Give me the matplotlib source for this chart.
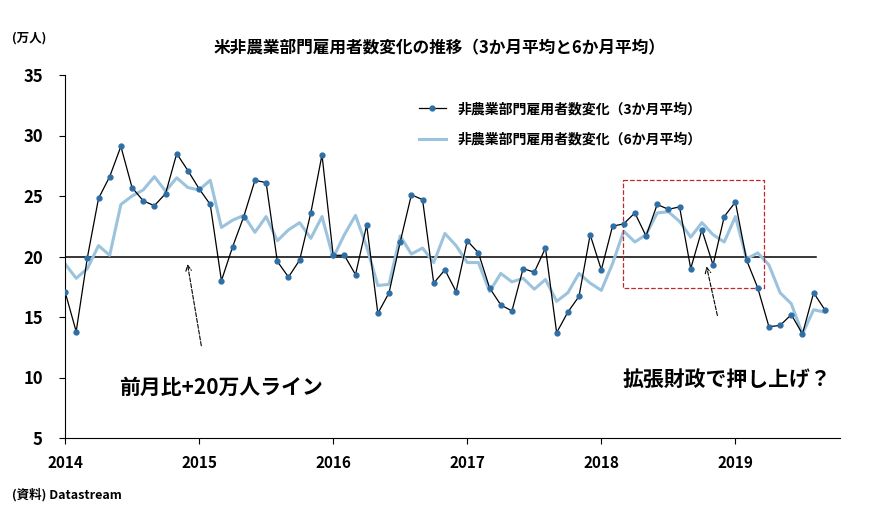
import matplotlib
matplotlib.use("Agg")
import matplotlib.pyplot as plt
import numpy as np

plt.rcParams['font.family'] = ['Noto Sans CJK JP', 'DejaVu Sans']

m3 = [17.1, 13.8, 19.9, 24.8, 26.6, 29.1, 25.7, 24.6, 24.2, 25.2, 28.5, 27.1,
      25.6, 24.3, 18.0, 20.8, 23.3, 26.3, 26.1, 19.6, 18.3, 19.7, 23.6, 28.4,
      20.1, 20.1, 18.5, 22.6, 15.3, 17.0, 21.2, 25.1, 24.7, 17.8, 18.9, 17.1,
      21.3, 20.3, 17.4, 16.0, 15.5, 19.0, 18.7, 20.7, 13.7, 15.4, 16.7, 21.8,
      18.9, 22.5, 22.7, 23.6, 21.7, 24.3, 23.9, 24.1, 19.0, 22.2, 19.3, 23.3,
      24.5, 19.7, 17.4, 14.2, 14.3, 15.2, 13.6, 17.0, 15.6]
m6 = [19.4, 18.2, 19.0, 20.9, 20.1, 24.3, 25.0, 25.5, 26.6, 25.4, 26.5, 25.7,
      25.5, 26.3, 22.4, 23.0, 23.4, 22.0, 23.3, 21.3, 22.2, 22.8, 21.5, 23.3,
      19.9, 21.8, 23.4, 20.8, 17.6, 17.7, 21.7, 20.2, 20.7, 19.5, 21.9, 20.9,
      19.5, 19.5, 17.1, 18.6, 17.9, 18.2, 17.3, 18.1, 16.3, 17.0, 18.6, 17.8,
      17.2, 19.4, 22.1, 21.2, 21.8, 23.6, 23.7, 22.9, 21.6, 22.8, 21.8, 21.2,
      23.3, 19.8, 20.3, 19.3, 17.0, 16.1, 13.6, 15.6, 15.4]
years = [2014, 2015, 2016, 2017, 2018, 2019]
x = 2014 + np.arange(len(m3)) / 12.0

fig = plt.figure(figsize=(8.85, 5.24), dpi=100)
ax = fig.add_axes([65/885, 1-438/524, (840-65)/885, (438-75)/524])
ax.plot(x, m6, color='#9cc3dd', lw=2.2, label='非農業部門雇用者数変化（6か月平均）', zorder=2)
ax.plot(x, m3, color='black', lw=0.9, marker='o', ms=3.5, mfc='#2e6fa8', mec='#2e6fa8',
        label='非農業部門雇用者数変化（3か月平均）', zorder=3)
ax.plot([2014, 2019.6], [20, 20], color='black', lw=1.1, zorder=1)
ax.plot([2018.16, 2019.21, 2019.21, 2018.16, 2018.16], [26.3, 26.3, 17.4, 17.4, 26.3],
        color='#c0282d', lw=0.9, ls='--')
ax.annotate('', xy=(2014.91, 19.6), xytext=(2015.02, 12.4),
            arrowprops=dict(arrowstyle='->', ls='--', color='black', lw=0.8))
ax.annotate('', xy=(2018.78, 19.4), xytext=(2018.87, 14.9),
            arrowprops=dict(arrowstyle='->', ls='--', color='black', lw=0.8))
ax.text(2014.4, 9.2, '前月比+20万人ライン', fontsize=15, fontweight='bold', va='center')
ax.text(2018.16, 9.8, '拡張財政で押し上げ？', fontsize=15, fontweight='bold', va='center')

ax.set_xlim(2014, 2019.78)
ax.set_ylim(5, 35)
ax.set_xticks(years)
ax.set_xticklabels([str(y) for y in years], fontsize=11, fontweight='bold')
ax.set_yticks(range(5, 36, 5))
ax.set_yticklabels([str(v) for v in range(5, 36, 5)], fontsize=12, fontweight='bold')
ax.tick_params(axis='y', direction='out', length=4, pad=12)
ax.tick_params(axis='x', direction='out', length=4, pad=8)
for s in ['top', 'right']:
    ax.spines[s].set_visible(False)

h, l = ax.get_legend_handles_labels()
ax.legend([h[1], h[0]], [l[1], l[0]], loc='upper left', bbox_to_anchor=(0.44, 0.96),
          frameon=False, prop={'size': 10, 'weight': 'bold'}, labelspacing=1.2)

fig.text(440/885, 1-48/524, '米非農業部門雇用者数変化の推移（3か月平均と6か月平均）',
         ha='center', va='center', fontsize=12, fontweight='bold')
fig.text(12/885, 1-38/524, '(万人)', fontsize=9, fontweight='bold', va='center')
fig.text(12/885, 1-495/524, '(資料) Datastream', fontsize=9, fontweight='bold', va='center')
fig.savefig('out.png', dpi=100)
